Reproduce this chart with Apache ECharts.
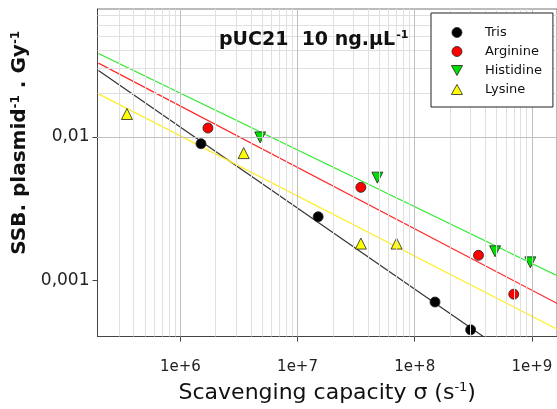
<!DOCTYPE html>
<html>
<head>
<meta charset="utf-8">
<script src="https://cdn.jsdelivr.net/npm/echarts@6/dist/echarts.min.js"></script>
<style>html,body{margin:0;padding:0;background:#fff;}#c{width:557px;height:409px;}</style>
</head>
<body>
<div id="c"></div>
<script>
// ---- data ----
const seriesNames = ['Tris', 'Arginine', 'Histidine', 'Lysine'];
const trisX = [1.5e6, 1.5e7, 1.49e8, 3.0e8];
const trisY = [0.00895, 0.00278, 0.00071, 0.000455];
const argX = [1.72e6, 3.47e7, 3.5e8, 7.0e8];
const argY = [0.0115, 0.00445, 0.0015, 0.000805];
const hisX = [4.8e6, 4.8e7, 4.85e8, 9.7e8];
const hisY = [0.0099, 0.0052, 0.0016, 0.00134];
const lysX = [3.5e5, 3.47e6, 3.47e7, 7.0e7];
const lysY = [0.0144, 0.0077, 0.00181, 0.00181];
// fitted power-law lines, values at the two ends
const fitX = [2e5, 2e9];
const trisFit = [0.02888, 0.0001616];
const argFit = [0.0325, 0.000638];
const hisFit = [0.0379, 0.00100];
const lysFit = [0.01986, 0.000423];
// tick labels
const xTickValues = [1e6, 1e7, 1e8, 1e9];
const xTickLabels = ['1e+6', '1e+7', '1e+8', '1e+9'];
const yTickValues = [0.001, 0.01];
const yTickLabels = ['0,001', '0,01'];
// grid line values
const xMajorGrid = [1e6, 1e7, 1e8, 1e9];
const xMinorGrid = [3e5,4e5,5e5,6e5,7e5,8e5,9e5,2e6,3e6,4e6,5e6,6e6,7e6,8e6,9e6,2e7,3e7,4e7,5e7,6e7,7e7,8e7,9e7,2e8,3e8,4e8,5e8,6e8,7e8,8e8,9e8];
const yMajorGrid = [0.001, 0.01];
const yMinorGrid = [5e-4,6e-4,7e-4,8e-4,9e-4,0.002,0.003,0.004,0.005,0.006,0.007,0.008,0.009,0.02,0.03,0.04,0.05,0.06,0.07];

const FONT = 'DejaVu Sans';
const xMin = 196336, xMax = 1.637e9, yMin = 4.09e-4, yMax = 0.0773;

function zip(xs, ys) { return xs.map((x, i) => [x, ys[i]]); }
function isPow(v) { const l = Math.log10(v); return Math.abs(l - Math.round(l)) < 1e-6; }
function labelFor(vals, labels, v) {
  for (let i = 0; i < vals.length; i++) if (Math.abs(Math.log10(vals[i]) - Math.log10(v)) < 1e-6) return labels[i];
  return '';
}

const gridLines = [];
xMinorGrid.forEach(v => gridLines.push({xAxis: v, lineStyle: {color: '#e0e0e0'}}));
yMinorGrid.forEach(v => gridLines.push({yAxis: v, lineStyle: {color: '#e0e0e0'}}));
xMajorGrid.forEach(v => gridLines.push({xAxis: v, lineStyle: {color: '#bfbfbf'}}));
yMajorGrid.forEach(v => gridLines.push({yAxis: v, lineStyle: {color: '#bfbfbf'}}));

const lineColors = ['#333333', '#ff2a2a', '#2bea2b', '#ffee22'];
const fillColors = ['#000000', '#ff0000', '#00dd00', '#ffff00'];
const legendIcons = ['circle', 'circle', 'path://M0,0 L10,0 L5,9 Z', 'path://M5,0 L10,9 L0,9 Z'];

function scatter(name, data, symbol, rotate, color) {
  return {
    name, type: 'scatter', data, symbol, symbolSize: symbol === 'circle' ? 10 : 11,
    symbolRotate: rotate, z: 4,
    itemStyle: {color, borderColor: '#222', borderWidth: 0.8, opacity: 1}
  };
}
function fitLine(name, ys, color) {
  return {
    name, type: 'line', data: zip(fitX, ys), showSymbol: false, symbol: 'none', z: 3,
    lineStyle: {color, width: 1.2}, clip: true, silent: true
  };
}

const chart = echarts.init(document.getElementById('c'), null, {renderer: 'canvas'});
chart.setOption({
  animation: false,
  backgroundColor: '#ffffff',
  textStyle: {fontFamily: FONT},
  title: {
    text: '{a|pUC21  10 ng.µL}{s|-1}',
    left: 219, top: 30, padding: 0,
    textStyle: {
      rich: {
        a: {fontFamily: FONT, fontWeight: 'bold', fontSize: 19, color: '#111'},
        s: {fontFamily: FONT, fontWeight: 'bold', fontSize: 11, color: '#111', verticalAlign: 'top', padding: [0, 0, 10, 1]}
      }
    }
  },
  legend: {
    zlevel: 1, z: 20,
    data: seriesNames.map((n, i) => ({
      name: n, icon: legendIcons[i], symbolRotate: 0,
      itemStyle: {color: fillColors[i], borderColor: '#222', borderWidth: 0.8},
      lineStyle: {color: 'rgba(0,0,0,0)', width: 0.01, opacity: 0}
    })),
    orient: 'vertical', left: 431, top: 13,
    padding: [13, 11, 11, 20],
    itemWidth: 46, itemHeight: 10, itemGap: 6, symbolKeepAspect: true,
    lineStyle: {color: 'rgba(0,0,0,0)', width: 0.01, opacity: 0},
    borderColor: '#222', borderWidth: 1, backgroundColor: '#fff', borderRadius: 0,
    textStyle: {fontFamily: FONT, fontSize: 13, color: '#111'}
  },
  grid: {
    left: 97.5, top: 9, width: 465, height: 330,
    show: true, borderColor: '#777', borderWidth: 1, backgroundColor: 'transparent'
  },
  xAxis: {
    type: 'log', min: xMin, max: xMax, logBase: 10,
    name: '{a|Scavenging capacity σ (s}{s|-1}{a|)}',
    nameLocation: 'middle', nameGap: 45,
    nameTextStyle: {
      rich: {
        a: {fontFamily: FONT, fontSize: 22, color: '#111'},
        s: {fontFamily: FONT, fontSize: 13, color: '#111', verticalAlign: 'top', padding: [0, 0, 10, 0]}
      }
    },
    axisLine: {show: true, lineStyle: {color: '#444', width: 1}},
    axisTick: {show: true, length: 5, lineStyle: {color: '#444'}},
    splitLine: {show: false}, minorTick: {show: false}, minorSplitLine: {show: false},
    axisLabel: {
      fontFamily: FONT, fontSize: 15, color: '#222', margin: 23,
      showMinLabel: false, showMaxLabel: false,
      formatter: v => isPow(v) ? labelFor(xTickValues, xTickLabels, v) : ''
    }
  },
  yAxis: {
    type: 'log', min: yMin, max: yMax, logBase: 10,
    name: '{a|SSB. plasmid}{s|-1}{a| . Gy}{s|-1}',
    nameLocation: 'middle', nameGap: 53, nameRotate: 90,
    nameTextStyle: {
      padding: [0, 0, 0, 60],
      rich: {
        a: {fontFamily: FONT, fontWeight: 'bold', fontSize: 20, color: '#111'},
        s: {fontFamily: FONT, fontWeight: 'bold', fontSize: 12, color: '#111', verticalAlign: 'top', padding: [0, 0, 9, 0]}
      }
    },
    axisLine: {show: true, lineStyle: {color: '#444', width: 1}},
    axisTick: {show: true, length: 5, lineStyle: {color: '#444'}},
    splitLine: {show: false}, minorTick: {show: false}, minorSplitLine: {show: false},
    axisLabel: {
      fontFamily: FONT, fontSize: 17, color: '#222', margin: 8,
      showMinLabel: false, showMaxLabel: false,
      formatter: v => isPow(v) ? labelFor(yTickValues, yTickLabels, v) : ''
    }
  },
  series: [
    {
      name: 'grid', type: 'line', data: [], z: 1, silent: true,
      markLine: {silent: true, symbol: ['none', 'none'], label: {show: false}, animation: false,
        lineStyle: {type: 'solid', width: 1}, data: gridLines}
    },
    fitLine('Tris fit', trisFit, lineColors[0]),
    fitLine('Arginine fit', argFit, lineColors[1]),
    fitLine('Histidine fit', hisFit, lineColors[2]),
    fitLine('Lysine fit', lysFit, lineColors[3]),
    scatter('Tris', zip(trisX, trisY), 'circle', 0, fillColors[0]),
    scatter('Arginine', zip(argX, argY), 'circle', 0, fillColors[1]),
    scatter('Histidine', zip(hisX, hisY), 'triangle', 180, fillColors[2]),
    scatter('Lysine', zip(lysX, lysY), 'triangle', 0, fillColors[3])
  ]
});
</script>
</body>
</html>
